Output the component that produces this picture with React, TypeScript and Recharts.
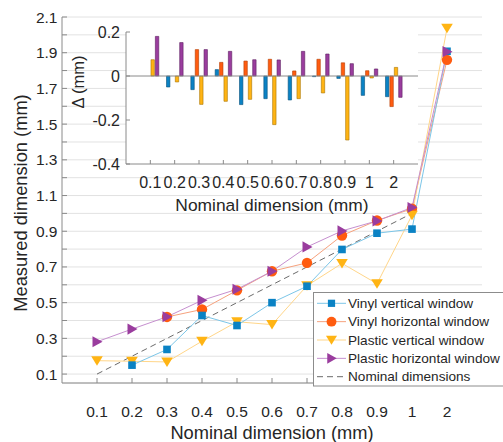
import React from 'react';
import {
  LineChart,
  Line,
  XAxis,
  YAxis,
  CartesianGrid,
  Legend,
  BarChart,
  Bar,
  ReferenceLine,
} from 'recharts';

// ---------- data ----------
const categories = ['0.1', '0.2', '0.3', '0.4', '0.5', '0.6', '0.7', '0.8', '0.9', '1', '2'];
const nominal = [0.1, 0.2, 0.3, 0.4, 0.5, 0.6, 0.7, 0.8, 0.9, 1.0, null];
const vinylVertical = [null, 0.15, 0.238, 0.428, 0.372, 0.5, 0.592, 0.798, 0.889, 0.912, 1.908];
const vinylHorizontal = [null, null, 0.42, 0.462, 0.569, 0.676, 0.723, 0.876, 0.96, 1.026, 1.86];
const plasticVertical = [0.175, 0.172, 0.168, 0.284, 0.393, 0.377, 0.595, 0.72, 0.606, 0.99, 2.037];
const plasticHorizontal = [0.281, 0.352, 0.421, 0.513, 0.575, 0.676, 0.812, 0.902, 0.958, 1.033, 1.906];

// inset: deviation from nominal (mm)
const dVinylVertical = [null, -0.05, -0.062, 0.029, -0.13, -0.103, -0.109, -0.003, -0.011, -0.088, -0.094];
const dVinylHorizontal = [null, null, 0.12, 0.062, 0.068, 0.076, 0.023, 0.076, 0.06, 0.024, -0.139];
const dPlasticVertical = [0.074, -0.027, -0.129, -0.115, -0.106, -0.221, -0.103, -0.077, -0.291, -0.009, 0.039];
const dPlasticHorizontal = [0.18, 0.152, 0.12, 0.112, 0.074, 0.073, 0.112, 0.1, 0.056, 0.032, -0.097];

const mainYTicks = [0.1, 0.2, 0.3, 0.4, 0.5, 0.6, 0.7, 0.8, 0.9, 1.0, 1.1, 1.2, 1.3, 1.4, 1.5, 1.6, 1.7, 1.8, 1.9, 2.0, 2.1];
const mainYLabelled = ['0.1', '0.3', '0.5', '0.7', '0.9', '1.1', '1.3', '1.5', '1.7', '1.9', '2.1'];
const insetYTicks = [-0.4, -0.2, 0, 0.2];

const seriesNames = [
  'Vinyl vertical window',
  'Vinyl horizontal window',
  'Plastic vertical window',
  'Plastic horizontal window',
  'Nominal dimensions',
];

// ---------- style ----------
const FONT = '"Liberation Sans", Arial, Helvetica, sans-serif';
const TEXT = '#262626';
const AXIS = '#8a8a8a';
const GRID = '#e2e2e2';

const C = {
  blue: '#0a82c4',
  blueLine: '#7cc6e8',
  blueEdge: '#06517c',
  red: '#ff5c10',
  redLine: '#f6a27e',
  redEdge: '#b23c00',
  yellow: '#ffb414',
  yellowLine: '#ffd689',
  yellowEdge: '#a87400',
  purple: '#9a3d9e',
  purpleLine: '#c68fcf',
  purpleEdge: '#5c1f60',
  nominal: '#6b6b6b',
};

const mainData = categories.map((c, i) => ({
  cat: c,
  nominal: nominal[i],
  vv: vinylVertical[i],
  vh: vinylHorizontal[i],
  pv: plasticVertical[i],
  ph: plasticHorizontal[i],
}));

const insetData = categories.map((c, i) => ({
  cat: c,
  vv: dVinylVertical[i],
  vh: dVinylHorizontal[i],
  pv: dPlasticVertical[i],
  ph: dPlasticHorizontal[i],
}));

type Kind = 'square' | 'circle' | 'down' | 'right';

function Marker({ kind, cx, cy, color, s = 1 }: { kind: Kind; cx: number; cy: number; color: string; s?: number }) {
  if (kind === 'square') {
    const h = 3.8 * s;
    return <rect x={cx - h} y={cy - h} width={2 * h} height={2 * h} fill={color} />;
  }
  if (kind === 'circle') {
    return <circle cx={cx} cy={cy} r={5.2 * s} fill={color} />;
  }
  if (kind === 'down') {
    const pts = `${cx - 5.8 * s},${cy - 4.5 * s} ${cx + 5.8 * s},${cy - 4.5 * s} ${cx},${cy + 5 * s}`;
    return <polygon points={pts} fill={color} />;
  }
  const pts = `${cx - 4.5 * s},${cy - 5.6 * s} ${cx - 4.5 * s},${cy + 5.6 * s} ${cx + 5.5 * s},${cy}`;
  return <polygon points={pts} fill={color} />;
}

const makeDot = (kind: Kind, color: string) => (props: any) => {
  const { cx, cy, index } = props;
  if (cx == null || cy == null || props.value == null) return <g key={`e-${kind}-${index}`} />;
  return (
    <g key={`d-${kind}-${index}`}>
      <Marker kind={kind} cx={cx} cy={cy} color={color} />
    </g>
  );
};

const legendItems: { name: string; line: string; color?: string; kind?: Kind; dash?: string }[] = [
  { name: seriesNames[0], line: C.blueLine, color: C.blue, kind: 'square' },
  { name: seriesNames[1], line: C.redLine, color: C.red, kind: 'circle' },
  { name: seriesNames[2], line: C.yellowLine, color: C.yellow, kind: 'down' },
  { name: seriesNames[3], line: C.purpleLine, color: C.purple, kind: 'right' },
  { name: seriesNames[4], line: C.nominal, dash: '6 4' },
];

const renderLegend = () => (
  <svg width={190} height={95} style={{ display: 'block' }}>
    <rect x={0.5} y={0.5} width={190} height={93.5} fill="#fff" stroke="#8c8c8c" strokeWidth={1} />
    {legendItems.map((it, i) => {
      const y = 11.3 + i * 18.35;
      return (
        <g key={it.name}>
          <line x1={4} x2={33} y1={y} y2={y} stroke={it.line} strokeWidth={1} strokeDasharray={it.dash} />
          {it.kind && it.color ? <Marker kind={it.kind} cx={18.5} cy={y} color={it.color} s={0.95} /> : null}
          <text x={35} y={y} dominantBaseline="central" fontSize={13.6} fill={TEXT} fontFamily={FONT}>
            {it.name}
          </text>
        </g>
      );
    })}
  </svg>
);

const xTitle = (text: string, dyCenter: number, size: number) => (props: any) => {
  const vb = props.viewBox || {};
  return (
    <text
      x={vb.x + vb.width / 2}
      y={vb.y + dyCenter}
      textAnchor="middle"
      dominantBaseline="central"
      fontSize={size}
      fill={TEXT}
      fontFamily={FONT}
    >
      {text}
    </text>
  );
};

const yTitle = (text: string, xCenter: number, yShift: number, size: number) => (props: any) => {
  const vb = props.viewBox || {};
  const x = vb.x + xCenter;
  const y = vb.y + vb.height / 2 + yShift;
  return (
    <text
      x={x}
      y={y}
      transform={`rotate(-90 ${x} ${y})`}
      textAnchor="middle"
      dominantBaseline="central"
      fontSize={size}
      fill={TEXT}
      fontFamily={FONT}
    >
      {text}
    </text>
  );
};

const mainFmt = (v: number) => {
  const s = v.toFixed(1);
  return mainYLabelled.includes(s) ? s : '';
};
const insetFmt = (v: number) => (Math.abs(v) < 1e-9 ? '0' : v.toFixed(1));

export default function App() {
  return (
    <div style={{ position: 'absolute', left: 0, top: 0, width: 503, height: 442, fontFamily: FONT, background: '#fff' }}>
      <div style={{ position: 'absolute', left: 0, top: 0 }}>
        <LineChart width={503} height={442} data={mainData} margin={{ top: 17, right: 21, bottom: 0, left: 0 }}>
          <CartesianGrid vertical={false} stroke={GRID} strokeWidth={1} />
          <XAxis
            dataKey="cat"
            type="category"
            scale="point"
            padding={{ left: 35, right: 35 }}
            height={59}
            interval={0}
            stroke={AXIS}
            tickSize={-5}
            tickMargin={27.6}
            tick={{ fill: TEXT, fontSize: 15.5 }}
            label={xTitle('Nominal dimension (mm)', 49, 18.3)}
          />
          <XAxis
            xAxisId="top"
            orientation="top"
            dataKey="cat"
            type="category"
            scale="point"
            padding={{ left: 35, right: 35 }}
            height={0}
            interval={0}
            stroke={AXIS}
            tickSize={-5}
            tick={false}
          />
          <YAxis
            type="number"
            domain={[0.05, 2.1]}
            allowDataOverflow
            ticks={mainYTicks}
            interval={0}
            width={62}
            stroke={AXIS}
            tickSize={-5}
            tickMargin={9.5}
            tickFormatter={mainFmt}
            tick={{ fill: TEXT, fontSize: 15.5 }}
            label={yTitle('Measured dimension (mm)', 20, 3, 18.3)}
          />
          <YAxis
            yAxisId="right"
            orientation="right"
            type="number"
            domain={[0.05, 2.1]}
            allowDataOverflow
            ticks={mainYTicks}
            interval={0}
            width={0}
            stroke={AXIS}
            tickSize={-5}
            tick={false}
          />
          <Line
            dataKey="nominal"
            stroke={C.nominal}
            strokeWidth={1}
            strokeDasharray="6 4"
            dot={false}
            isAnimationActive={false}
          />
          <Line dataKey="vh" stroke={C.redLine} strokeWidth={1} dot={makeDot('circle', C.red)} isAnimationActive={false} />
          <Line dataKey="pv" stroke={C.yellowLine} strokeWidth={1} dot={makeDot('down', C.yellow)} isAnimationActive={false} />
          <Line dataKey="vv" stroke={C.blueLine} strokeWidth={1} dot={makeDot('square', C.blue)} isAnimationActive={false} />
          <Line dataKey="ph" stroke={C.purpleLine} strokeWidth={1} dot={makeDot('right', C.purple)} isAnimationActive={false} />
          <Legend
            layout="horizontal"
            verticalAlign="middle"
            align="center"
            content={renderLegend}
            wrapperStyle={{ left: 313, top: 292, width: 191, height: 95, margin: 0, padding: 0 }}
          />
        </LineChart>
      </div>
      <div style={{ position: 'absolute', left: 0, top: 0 }}>
        <BarChart
          width={503}
          height={442}
          data={insetData}
          margin={{ top: 32, right: 85, bottom: 228, left: 0 }}
          barGap={1}
        >
          <CartesianGrid horizontal={false} vertical={false} fill="#ffffff" />
          <XAxis
            dataKey="cat"
            type="category"
            padding={{ left: 12.17, right: 12.17 }}
            height={50}
            interval={0}
            stroke={AXIS}
            tickSize={-4}
            tickMargin={16.4}
            tick={{ fill: TEXT, fontSize: 16 }}
            label={xTitle('Nominal dimension (mm)', 41, 17.4)}
          />
          <XAxis
            xAxisId="top"
            orientation="top"
            dataKey="cat"
            type="category"
            padding={{ left: 12.17, right: 12.17 }}
            height={0}
            interval={0}
            stroke={AXIS}
            tickSize={-4}
            tick={false}
          />
          <YAxis
            type="number"
            domain={[-0.4, 0.2]}
            allowDataOverflow
            ticks={insetYTicks}
            interval={0}
            width={126}
            stroke={AXIS}
            tickSize={-4}
            tickMargin={10}
            tickFormatter={insetFmt}
            tick={{ fill: TEXT, fontSize: 16 }}
            label={yTitle('Δ (mm)', 78, -16, 16.5)}
          />
          <YAxis
            yAxisId="right"
            orientation="right"
            type="number"
            domain={[-0.4, 0.2]}
            allowDataOverflow
            ticks={insetYTicks}
            interval={0}
            width={0}
            stroke={AXIS}
            tickSize={-4}
            tick={false}
          />
          <ReferenceLine y={0} stroke={AXIS} strokeWidth={1} />
          <Bar dataKey="vv" barSize={3.4} fill={C.blue} stroke={C.blueEdge} strokeWidth={0.6} isAnimationActive={false} />
          <Bar dataKey="vh" barSize={3.4} fill={C.red} stroke={C.redEdge} strokeWidth={0.6} isAnimationActive={false} />
          <Bar dataKey="pv" barSize={3.4} fill={C.yellow} stroke={C.yellowEdge} strokeWidth={0.6} isAnimationActive={false} />
          <Bar dataKey="ph" barSize={3.4} fill={C.purple} stroke={C.purpleEdge} strokeWidth={0.6} isAnimationActive={false} />
        </BarChart>
      </div>
    </div>
  );
}
